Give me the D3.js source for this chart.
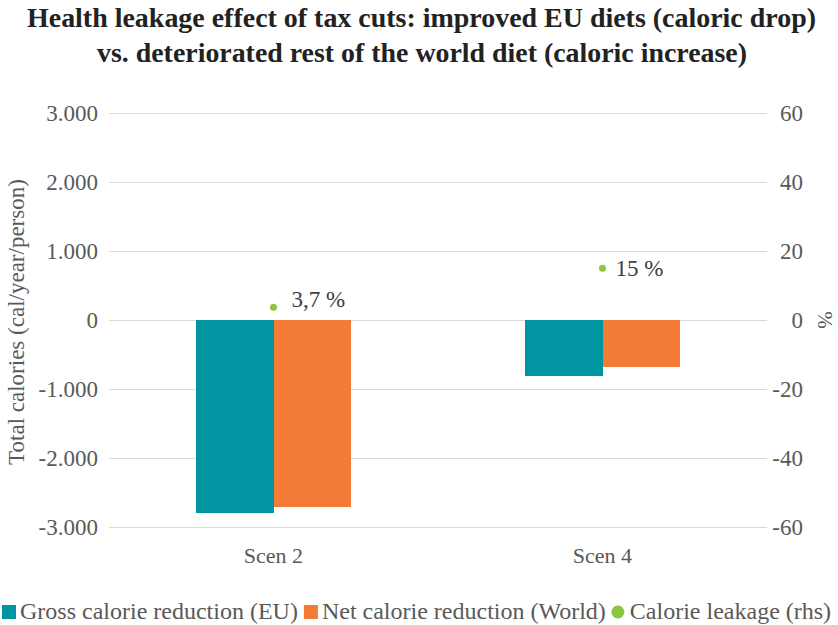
<!DOCTYPE html>
<html><head><meta charset="utf-8">
<script src="https://cdnjs.cloudflare.com/ajax/libs/d3/7.8.5/d3.min.js"></script>
<style>body{margin:0;background:#fff}svg{display:block}svg text{font-family:"Liberation Serif","Times New Roman",serif}</style>
</head><body><svg id="c" width="838" height="625"></svg>
<script>
const categories = ["Scen 2", "Scen 4"];
const grossEU = [-2800, -810];
const netWorld = [-2710, -680];
const leakage = [3.7, 15];
const leakageLabels = ["3,7 %", "15 %"];
const leftTicks = [-3000, -2000, -1000, 0, 1000, 2000, 3000];
const rightTicks = [-60, -40, -20, 0, 20, 40, 60];
const seriesNames = ["Gross calorie reduction (EU)", "Net calorie reduction (World)", "Calorie leakage (rhs)"];
const colors = ["#0095A1", "#F47B35", "#8DC63F"];

// label placement (style, not data)
const labelDx = [18, 13];
const labelDy = [0, 8];

const svg = d3.select("#c");
const L = 109, R = 767, T = 113, B = 527;

const x = d3.scaleBand().domain(categories).range([L, R]);
const xs = d3.scaleBand().domain([0, 1]).range([0, x.bandwidth()]).paddingInner(0).paddingOuter(1.11);
const yL = d3.scaleLinear().domain([-3000, 3000]).range([B, T]);
const yR = d3.scaleLinear().domain([-60, 60]).range([B, T]);

const fmt = v => (v < 0 ? "-" : "") + d3.format(",")(Math.abs(v)).replace(/,/g, ".");

// title
svg.append("text").attr("x", 421.5).attr("y", 27).attr("text-anchor", "middle")
  .attr("font-weight", "bold").attr("font-size", 27).attr("fill", "#222")
  .attr("textLength", 789).attr("lengthAdjust", "spacingAndGlyphs")
  .text("Health leakage effect of tax cuts: improved EU diets (caloric drop)");
svg.append("text").attr("x", 422).attr("y", 62).attr("text-anchor", "middle")
  .attr("font-weight", "bold").attr("font-size", 27).attr("fill", "#222")
  .attr("textLength", 650).attr("lengthAdjust", "spacingAndGlyphs")
  .text("vs. deteriorated rest of the world diet (caloric increase)");

// gridlines
svg.append("g").selectAll("line").data(leftTicks).join("line")
  .attr("x1", L).attr("x2", R).attr("y1", d => Math.round(yL(d)) + 0.5).attr("y2", d => Math.round(yL(d)) + 0.5)
  .attr("stroke", "#d9d9d9").attr("stroke-width", 1);

// left axis
const gl = svg.append("g").attr("transform", `translate(${L},0)`)
  .call(d3.axisLeft(yL).tickValues(leftTicks).tickFormat(fmt).tickSize(0).tickPadding(11));
gl.select(".domain").remove();
gl.selectAll("text").attr("font-family", null).attr("font-size", 23).attr("fill", "#595959");

// right axis
const gr = svg.append("g").attr("transform", `translate(${R},0)`)
  .call(d3.axisRight(yR).tickValues(rightTicks).tickFormat(d => (d < 0 ? "-" : "") + Math.abs(d)).tickSize(0).tickPadding(0));
gr.select(".domain").remove();
gr.selectAll("text").attr("font-family", null).attr("font-size", 23).attr("fill", "#595959")
  .attr("text-anchor", "end").attr("x", 36);

// axis titles
svg.append("text").attr("transform", `translate(24,${yL(0) + 2}) rotate(-90)`).attr("text-anchor", "middle")
  .attr("font-size", 23).attr("fill", "#595959")
  .text("Total calories (cal/year/person)");
svg.append("text").attr("transform", `translate(818,${yL(0)}) rotate(90)`).attr("text-anchor", "middle")
  .attr("font-size", 21).attr("fill", "#595959").text("%");

// bars
const series = [grossEU, netWorld];
series.forEach((vals, si) => {
  svg.append("g").selectAll("rect").data(vals).join("rect")
    .attr("x", (d, i) => x(categories[i]) + xs(si))
    .attr("width", xs.bandwidth())
    .attr("y", d => yL(Math.max(0, d)))
    .attr("height", d => Math.abs(yL(d) - yL(0)))
    .attr("fill", colors[si])
    .attr("shape-rendering", "crispEdges");
});

// leakage points
const cx = (d, i) => x(categories[i]) + x.bandwidth() / 2;
svg.append("g").selectAll("circle").data(leakage).join("circle")
  .attr("cx", cx).attr("cy", d => yR(d)).attr("r", 3.5).attr("fill", colors[2]);
svg.append("g").selectAll("text").data(leakage).join("text")
  .attr("x", (d, i) => cx(d, i) + labelDx[i]).attr("y", (d, i) => yR(d) + labelDy[i])
  .attr("font-size", 23).attr("fill", "#404040")
  .text((d, i) => leakageLabels[i]);

// x labels
svg.append("g").selectAll("text").data(categories).join("text")
  .attr("x", d => x(d) + x.bandwidth() / 2).attr("y", 563).attr("text-anchor", "middle")
  .attr("font-size", 22).attr("fill", "#595959").text(d => d);

// legend
const lg = svg.append("g");
let lx = 2;
seriesNames.forEach((n, i) => {
  if (i < 2) lg.append("rect").attr("x", lx).attr("y", 605).attr("width", 14).attr("height", 14).attr("fill", colors[i]);
  else lg.append("circle").attr("cx", lx + 6).attr("cy", 612).attr("r", 6.5).attr("fill", colors[i]);
  const t = lg.append("text").attr("x", lx + 18).attr("y", 619).attr("font-size", 24)
    .attr("fill", "#595959").text(n);
  lx = lx + 18 + t.node().getComputedTextLength() + 6;
});
</script></body></html>
